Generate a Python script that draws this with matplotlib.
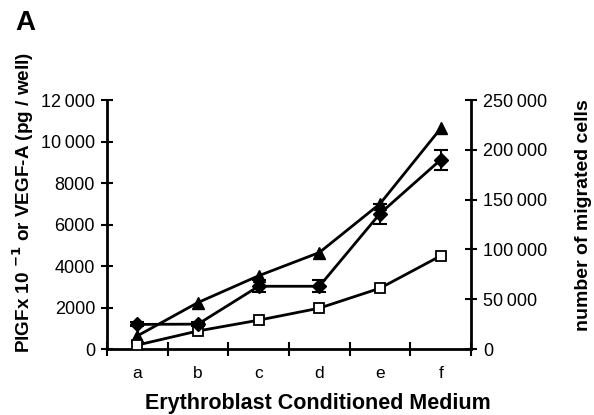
import matplotlib
matplotlib.use("Agg")
import matplotlib.pyplot as plt
import numpy as np

plt.rcParams['font.family'] = ['Liberation Sans', 'DejaVu Sans']

categories = ['a', 'b', 'c', 'd', 'e', 'f']
plgf = [630, 2240, 3530, 4650, 7000, 10630]          # PlGF x 10^-1 (pg/well), triangles
vegf = [190, 870, 1390, 1970, 2930, 4490]            # VEGF-A (pg/well), open squares
migrated = [24700, 25000, 63000, 63000, 136000, 190000]  # migrated cells, diamonds
migrated_err = [2000, 2000, 6000, 6000, 10000, 10000]

left_ticks = [0, 2000, 4000, 6000, 8000, 10000, 12000]
left_labels = ['0', '2000', '4000', '6000', '8000', '10\u2009000', '12\u2009000']
right_ticks = [0, 50000, 100000, 150000, 200000, 250000]
right_labels = ['0', '50\u2009000', '100\u2009000', '150\u2009000', '200\u2009000', '250\u2009000']

fig = plt.figure(figsize=(5.94, 4.15), dpi=100)
ax = fig.add_axes([0.180, 0.159, 0.613, 0.600])
ax2 = ax.twinx()

x = np.arange(len(categories)) + 0.5

ax.plot(x, plgf, color='black', lw=2, marker='^', ms=8, mfc='black', mec='black', zorder=3)
ax.plot(x, vegf, color='black', lw=2, marker='s', ms=6.5, mfc='white', mec='black', mew=1.3, zorder=3)
ax2.errorbar(x, migrated, yerr=migrated_err, color='black', lw=2, marker='D', ms=7,
             mfc='black', mec='black', capsize=5, elinewidth=1.5, capthick=1.5, zorder=3)

ax.set_xlim(0, len(categories))
ax.set_ylim(0, 12000)
ax2.set_ylim(0, 250000)

ax.set_xticks(np.arange(len(categories) + 1))
ax.set_xticklabels([])
ax.set_xticks(x, minor=True)
ax.set_xticklabels(categories, minor=True, fontsize=12.5)
ax.tick_params(axis='x', which='major', direction='inout', length=10, width=1.5)
ax.tick_params(axis='x', which='minor', length=0, pad=12)

ax.set_yticks(left_ticks)
ax.set_yticklabels(left_labels, fontsize=13)
ax.tick_params(axis='y', direction='inout', length=9, width=1.5, pad=4)
ax2.set_yticks(right_ticks)
ax2.set_yticklabels(right_labels, fontsize=13)
ax2.tick_params(axis='y', direction='inout', length=9, width=1.5, pad=4)

for a in (ax, ax2):
    a.spines['top'].set_visible(False)
    a.spines['left'].set_linewidth(2)
    a.spines['right'].set_linewidth(2)
    a.spines['bottom'].set_linewidth(2)
ax.spines['right'].set_visible(False)
ax2.spines['left'].set_visible(False)
ax2.spines['bottom'].set_visible(False)

fig.text(318 / 594, 1 - 409 / 415, 'Erythroblast Conditioned Medium', fontsize=15.5,
         fontweight='bold', ha='center', va='baseline')
fig.text(23 / 594, 1 - 203 / 415, r'PlGFx 10 $^{\mathbf{-1}}$ or VEGF-A (pg / well)',
         fontsize=13.6, fontweight='bold', rotation=90, ha='center', va='center')
fig.text(583 / 594, 1 - 215 / 415, 'number of migrated cells', fontsize=14,
         fontweight='bold', rotation=90, ha='center', va='center')

fig.text(15 / 594, 1 - 10 / 415, 'A', fontsize=20, fontweight='bold', ha='left', va='top')

fig.savefig('out.png', dpi=100)
